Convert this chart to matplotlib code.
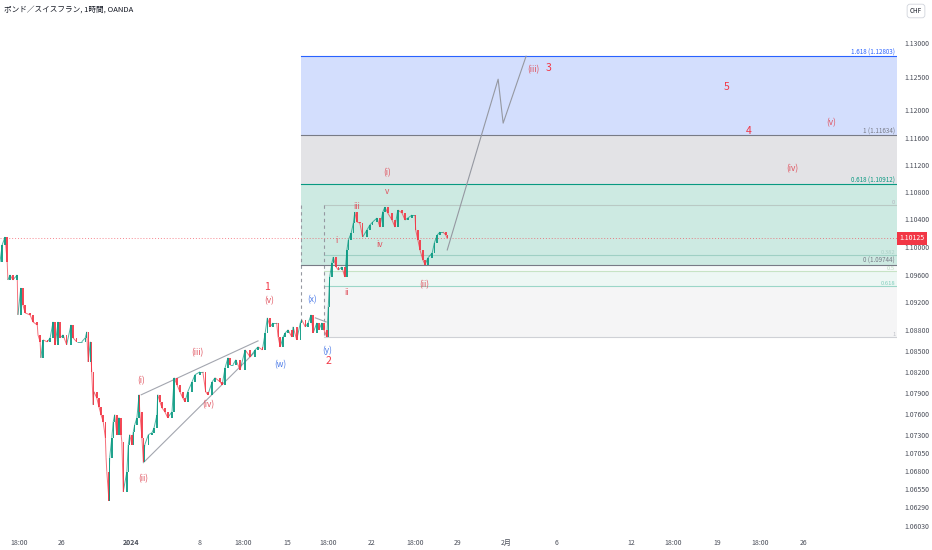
import numpy as np
import matplotlib
matplotlib.use('Agg')
import matplotlib.pyplot as plt
import matplotlib.transforms as mtransforms
from matplotlib.collections import LineCollection
from matplotlib.ticker import NullLocator

plt.rcParams['font.family'] = ['Noto Sans CJK JP', 'DejaVu Sans']

title = 'ポンド／スイスフラン, 1時間, OANDA'

# hourly bar index (0 = first visible bar) and price
bars = [0, 3, 7, 10, 11, 14, 18, 24, 25, 29, 32, 35, 42, 46, 52, 53, 56, 57, 60, 66,
        70, 74, 77, 81, 84, 88, 93, 99, 102, 107, 114, 119, 121, 123, 126, 128, 130, 131, 135, 138,
        141, 144, 147, 148, 149, 152, 153, 156, 158, 160, 163, 166, 169, 170, 172, 177, 179, 181, 184, 186,
        188, 191, 194, 195, 198, 200, 202, 207, 212, 215, 219, 220, 223, 226, 230, 234, 240, 243, 247, 251,
        255, 258, 262, 268, 272, 279, 283, 287, 290, 296, 300, 307, 310, 314, 318, 321, 325, 329, 335, 342,
        349, 356, 360, 366, 370, 373, 377, 381, 386, 388, 391, 395, 398, 402, 407, 409, 414, 419, 421, 426,
        430, 434, 437, 442, 445, 449, 452, 456, 458, 460, 463, 465, 469, 472, 477, 481, 484, 486, 490, 493,
        495, 498, 502, 506, 512, 516, 520, 526, 530, 534, 537, 541, 547, 551, 555, 561, 565, 569, 575, 579,
        580, 583, 586, 590, 593, 597, 603, 606, 610, 614, 618, 622, 624]
prices = [1.09783, 1.10029, 1.10145, 1.09783, 1.09523, 1.09595, 1.09523, 1.09595, 1.09019, 1.09407,
          1.09163, 1.09048, 1.09019, 1.08918, 1.08875, 1.08732, 1.08632, 1.08403, 1.08660, 1.08632,
          1.08689, 1.08918, 1.08589, 1.08918, 1.08689, 1.08732, 1.08589, 1.08875, 1.08689, 1.08632,
          1.08632, 1.08689, 1.08775, 1.08346, 1.08632, 1.08203, 1.07734, 1.07919, 1.07833, 1.07706,
          1.07592, 1.07493, 1.07267, 1.06984, 1.06787, 1.06380, 1.06984, 1.07267, 1.07493, 1.07592,
          1.07309, 1.07550, 1.07309, 1.07210, 1.06507, 1.06787, 1.07168, 1.07309, 1.07168, 1.07352,
          1.07451, 1.07550, 1.07876, 1.07635, 1.07267, 1.06928, 1.07168, 1.07309, 1.07337, 1.07408,
          1.07592, 1.07876, 1.07777, 1.07691, 1.07635, 1.07550, 1.07635, 1.08118, 1.08018, 1.07919,
          1.07833, 1.07777, 1.07919, 1.08061, 1.08161, 1.08203, 1.08203, 1.07919, 1.07876, 1.08061,
          1.08118, 1.08061, 1.08018, 1.08260, 1.08403, 1.08303, 1.08303, 1.08375, 1.08232, 1.08517,
          1.08417, 1.08517, 1.08560, 1.08517, 1.08761, 1.08976, 1.08847, 1.08904, 1.08904, 1.08703,
          1.08560, 1.08703, 1.08761, 1.08804, 1.08703, 1.08847, 1.08660, 1.08904, 1.08947, 1.08847,
          1.08904, 1.09019, 1.08761, 1.08904, 1.08804, 1.08904, 1.08804, 1.08703, 1.09134, 1.09566,
          1.09768, 1.09855, 1.09710, 1.09667, 1.09710, 1.09566, 1.09957, 1.10101, 1.10203, 1.10348,
          1.10508, 1.10363, 1.10348, 1.10145, 1.10247, 1.10319, 1.10363, 1.10421, 1.10290, 1.10508,
          1.10581, 1.10494, 1.10392, 1.10290, 1.10538, 1.10494, 1.10392, 1.10421, 1.10465, 1.10465,
          1.10247, 1.10101, 1.09957, 1.09812, 1.09744, 1.09841, 1.09913, 1.10058, 1.10174, 1.10218,
          1.10218, 1.10174, 1.10125]
last_price = 1.10125

xtick_pos = [26.5, 86.5, 182.8, 279, 339, 400.5, 457.7, 519, 579, 639, 706, 775.8, 880.4, 939, 1000.4, 1060.4, 1120.4]
xtick_lab = ['18:00', '26', '2024', '8', '18:00', '15', '18:00', '22', '18:00', '29', '2月', '6', '12', '18:00', '19', '18:00', '26']
ytick_val = [1.13, 1.125, 1.12, 1.116, 1.112, 1.108, 1.104, 1.10, 1.096, 1.092, 1.088, 1.085, 1.082,
             1.079, 1.076, 1.073, 1.0705, 1.068, 1.0655, 1.0629, 1.0603]

# trend based fib extension
ext_levels = [0, 0.618, 1, 1.618]
ext_prices = [1.09744, 1.10912, 1.11634, 1.12803]
ext_start = 420
# fib retracement
ret_levels = [0, 0.382, 0.5, 0.618, 1]
ret_prices = [1.10611, 1.09882, 1.09656, 1.09431, 1.08702]
ret_start = 452

# projected path
proj_bars = [624, 695, 702, 734]
proj_prices = [1.09957, 1.12462, 1.11812, 1.12803]

# ending diagonal lines
wedge_up_bars, wedge_up_prices = [197, 360], [1.07876, 1.08646]
wedge_lo_bars, wedge_lo_prices = [200, 356], [1.06914, 1.08489]
small_bars, small_prices = [440, 455], [1.08976, 1.08918]

# wave labels: text, bar, price, kind
wave_labels = [
    ('1', 372, 1.09422, 'num'), ('(v)', 375, 1.09220, 'sub'),
    ('(i)', 197, 1.08075, 'sub'), ('(iii)', 275, 1.08474, 'sub'),
    ('(iv)', 290, 1.07734, 'sub'), ('(ii)', 200, 1.06689, 'sub'),
    ('(w)', 391, 1.08303, 'blue'), ('(x)', 435, 1.09235, 'blue'),
    ('(y)', 456, 1.08517, 'blue'), ('2', 459, 1.08360, 'num'),
    ('(i)', 540, 1.11078, 'sub'), ('v', 540, 1.10815, 'sub'),
    ('iii', 497, 1.10596, 'sub'), ('i', 469, 1.10101, 'sub'),
    ('iv', 530, 1.10029, 'sub'), ('ii', 484, 1.09335, 'sub'),
    ('(ii)', 592, 1.09451, 'sub'), ('(iii)', 744, 1.12610, 'sub'),
    ('3', 765, 1.12625, 'num'), ('5', 1014, 1.12343, 'num'),
    ('4', 1045, 1.11694, 'num'), ('(v)', 1160, 1.11812, 'sub'),
    ('(iv)', 1105, 1.11136, 'sub'),
]

fig = plt.figure(figsize=(9.32, 5.5), dpi=100)
ax = fig.add_axes([0, 18 / 550, 897 / 932, 532 / 550])
ax.set_yscale('log')
xmax = 1251.5
ax.set_xlim(0, xmax)
ax.set_ylim(1.05941, 1.13643)

# fib extension boxes
ext_fill = ['#CDEAE2', '#E3E3E6', '#D3DEFD']
ext_line = ['#787B86', '#089981', '#787B86', '#2962FF']
for i in range(3):
    ax.fill_between([ext_start, xmax], ext_prices[i], ext_prices[i + 1], color=ext_fill[i], lw=0, zorder=0)
for lvl, p, c in zip(ext_levels, ext_prices, ext_line):
    ax.plot([ext_start, xmax], [p, p], color=c, lw=0.8, zorder=1.5)
    ax.text(1249, p, f'{lvl:g} ({p:.5f})', ha='right', va='bottom', fontsize=4.5, color=c, zorder=5)

# fib retracement boxes (behind the extension boxes)
ret_fill = [None, '#F7FBFA', '#EDF7F4', '#F5F5F6']
ret_line = ['#B9C9C4', '#9FD0C4', '#C7E3C5', '#9BD6C8', '#CFD1D6']
ret_text = ['#B2B5BE', '#A9CFC5', '#B9D9C0', '#7FCDBB', '#C0C3CA']
for i in range(1, 4):
    lo, hi = sorted([ret_prices[i], ret_prices[i + 1]])
    ax.fill_between([ret_start, xmax], lo, hi, color=ret_fill[i], lw=0, zorder=-1)
for lvl, p, c, tc in zip(ret_levels, ret_prices, ret_line, ret_text):
    ax.plot([ret_start, xmax], [p, p], color=c, lw=0.8, zorder=1)
    ax.text(1249, p, f'{lvl:g}', ha='right', va='bottom', fontsize=4.2, color=tc, zorder=4)
ax.plot([ext_start, ext_start], [ret_prices[0], 1.08918], color='#9598A1', lw=0.8, ls=(0, (3, 3)), zorder=1)
ax.plot([ret_start, ret_start], [ret_prices[0], ret_prices[-1]], color='#9598A1', lw=0.8, ls=(0, (3, 3)), zorder=1)

# current price line
ax.axhline(last_price, color='#F23645', lw=0.7, ls=(0, (1, 2)), alpha=0.6, zorder=1)

# price path from consecutive readings: thin trace plus candle bodies coloured by direction
up = np.diff(prices) >= 0
cols = np.where(up, '#089981', '#F23645')
pts = np.column_stack([bars, prices])
segs = np.stack([pts[:-1], pts[1:]], axis=1)
ax.add_collection(LineCollection(segs, colors=cols, linewidths=0.7, alpha=0.7, zorder=3))
o = np.array(prices[:-1])
c = np.array(prices[1:])
gap = np.diff(bars).astype(float)
ax.bar(np.array(bars[1:], dtype=float), c - o, bottom=o, width=np.minimum(gap * 0.8, 2.2),
       color=cols, alpha=0.9, lw=0, zorder=3.5)

# drawings
ax.plot(proj_bars, proj_prices, color='#9598A1', lw=0.8, zorder=2)
ax.plot(wedge_up_bars, wedge_up_prices, color='#A3A6AF', lw=0.8, zorder=2)
ax.plot(wedge_lo_bars, wedge_lo_prices, color='#A3A6AF', lw=0.8, zorder=2)
ax.plot(small_bars, small_prices, color='#A3A6AF', lw=0.8, zorder=2)

styles = {'num': ('#F23645', 7.5), 'sub': ('#E0525E', 6), 'blue': ('#4C7BE8', 6)}
for txt, b, p, kind in wave_labels:
    col, fs = styles[kind]
    ax.text(b, p, txt, ha='center', va='center', fontsize=fs, color=col, zorder=6)

# axes styling
for s in ax.spines.values():
    s.set_visible(False)
ax.yaxis.tick_right()
ax.yaxis.set_minor_locator(NullLocator())
ax.set_yticks(ytick_val)
ax.set_yticklabels([f'{v:.5f}' for v in ytick_val])
ax.tick_params(axis='y', length=0, pad=5, labelsize=5, labelcolor='#4A4E59')
ax.set_xticks(xtick_pos)
ax.set_xticklabels(xtick_lab)
ax.tick_params(axis='x', length=0, pad=5, labelsize=5, labelcolor='#4A4E59')
for lab in ax.get_xticklabels():
    if lab.get_text() == '2024':
        lab.set_fontweight('bold')

trans = mtransforms.blended_transform_factory(ax.transAxes, ax.transData)
ax.text(1.003, last_price, '1.10125', transform=trans, ha='left', va='center', fontsize=5,
        color='white', clip_on=False, zorder=7,
        bbox=dict(boxstyle='square,pad=0.35', fc='#F23645', ec='none'))

fig.text(4 / 932, 1 - 10 / 550, title, fontsize=5.5, va='center', color='#131722')
fig.text(916 / 932, 1 - 11 / 550, 'CHF', ha='center', va='center', fontsize=4.5, color='#131722',
         bbox=dict(boxstyle='round,pad=0.45', fc='white', ec='#D1D4DC', lw=0.6))

fig.savefig('out.png', dpi=100)
